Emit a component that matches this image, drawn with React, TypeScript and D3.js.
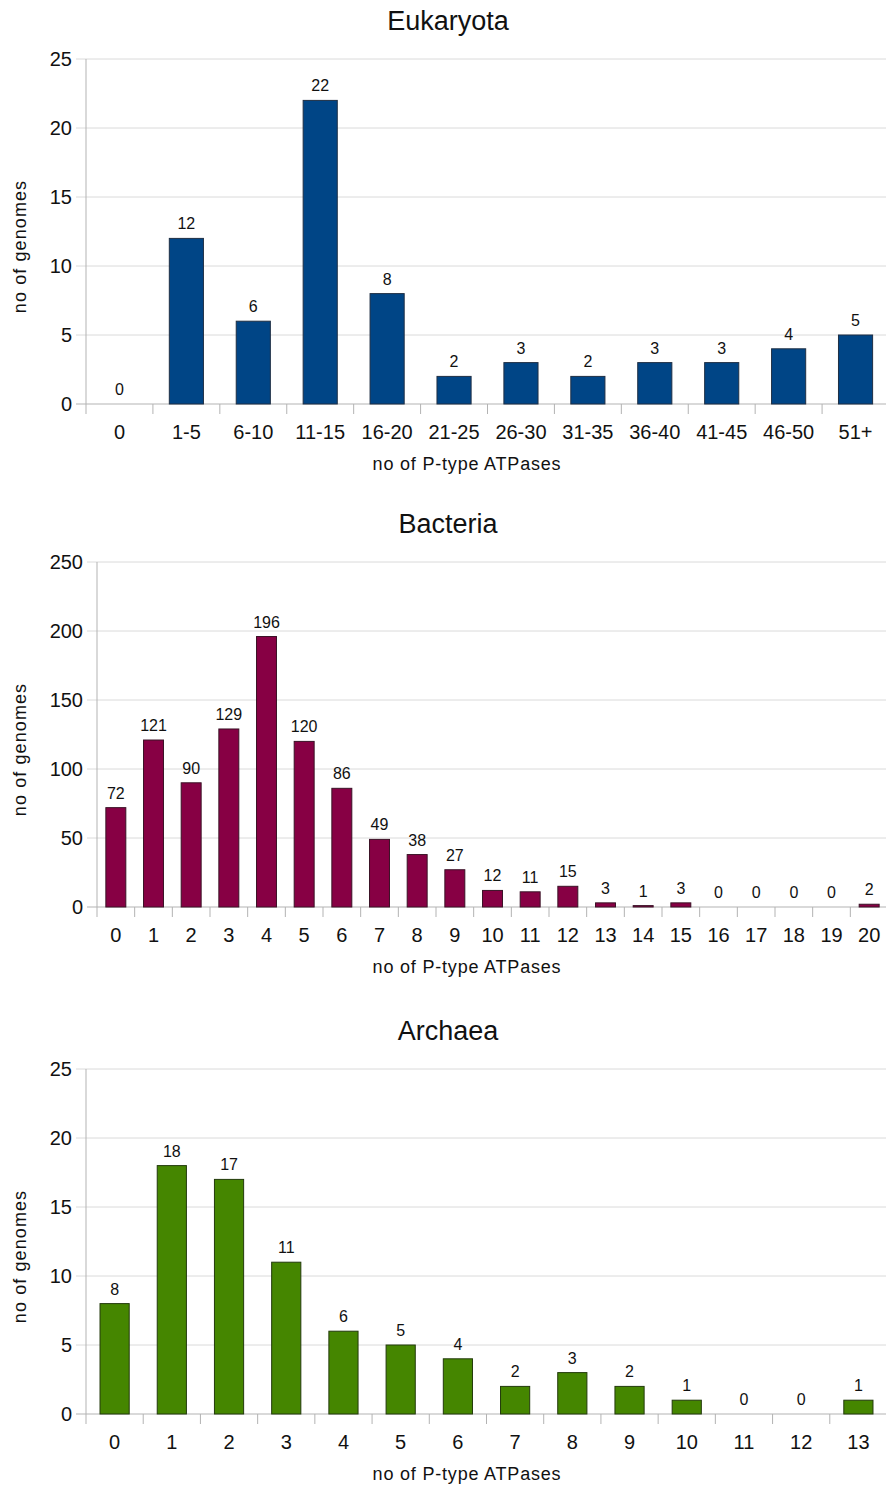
import React from "react";
import * as d3 from "d3";

const eukCategories = ["0", "1-5", "6-10", "11-15", "16-20", "21-25", "26-30", "31-35", "36-40", "41-45", "46-50", "51+"];
const eukValues = [0, 12, 6, 22, 8, 2, 3, 2, 3, 3, 4, 5];
const eukTicks = [0, 5, 10, 15, 20, 25];

const bacCategories = ["0", "1", "2", "3", "4", "5", "6", "7", "8", "9", "10", "11", "12", "13", "14", "15", "16", "17", "18", "19", "20"];
const bacValues = [72, 121, 90, 129, 196, 120, 86, 49, 38, 27, 12, 11, 15, 3, 1, 3, 0, 0, 0, 0, 2];
const bacTicks = [0, 50, 100, 150, 200, 250];

const arcCategories = ["0", "1", "2", "3", "4", "5", "6", "7", "8", "9", "10", "11", "12", "13"];
const arcValues = [8, 18, 17, 11, 6, 5, 4, 2, 3, 2, 1, 0, 0, 1];
const arcTicks = [0, 5, 10, 15, 20, 25];

const FONT = "'Liberation Sans', Arial, sans-serif";

type PanelProps = {
  title: string;
  categories: string[];
  values: number[];
  ticks: number[];
  color: string;
  stroke: string;
  left: number;
  right: number;
  top: number;
  bottom: number;
  titleY: number;
  barFrac: number;
};

function Panel(p: PanelProps) {
  const x = d3
    .scaleBand<string>()
    .domain(p.categories)
    .range([p.left, p.right])
    .paddingInner(1 - p.barFrac)
    .paddingOuter((1 - p.barFrac) / 2);
  const step = x.step();
  const y = d3
    .scaleLinear()
    .domain([0, p.ticks[p.ticks.length - 1]])
    .range([p.bottom, p.top]);
  const gridRight = 886;
  return (
    <g>
      <text x={448} y={p.titleY} textAnchor="middle" fontSize={27} fontFamily={FONT} fill="#111">
        {p.title}
      </text>
      {p.ticks.map((t) => (
        <g key={"t" + t}>
          <line x1={p.left - 10} x2={gridRight} y1={y(t)} y2={y(t)} stroke={t === 0 ? "#b3b3b3" : "#dadada"} strokeWidth={1} />
          <text x={p.left - 14} y={y(t)} dy="0.35em" textAnchor="end" fontSize={20} fontFamily={FONT} fill="#111">
            {t}
          </text>
        </g>
      ))}
      <line x1={p.left} x2={p.left} y1={p.top} y2={p.bottom + 10} stroke="#b3b3b3" strokeWidth={1} />
      {p.categories.map((c, i) => (
        <line key={"s" + c} x1={p.left + step * (i + 1)} x2={p.left + step * (i + 1)} y1={p.bottom} y2={p.bottom + 10} stroke="#b3b3b3" strokeWidth={1} />
      ))}
      {p.categories.map((c, i) => {
        const v = p.values[i];
        const bx = x(c)!;
        const bw = x.bandwidth();
        return (
          <g key={"b" + c}>
            {v > 0 && (
              <rect x={bx} y={y(v)} width={bw} height={p.bottom - y(v)} fill={p.color} stroke={p.stroke} strokeWidth={1} />
            )}
            <text x={bx + bw / 2} y={y(v) - 9} textAnchor="middle" fontSize={16} fontFamily={FONT} fill="#111">
              {v}
            </text>
            <text x={bx + bw / 2} y={p.bottom + 28} dy="0.35em" textAnchor="middle" fontSize={20} fontFamily={FONT} fill="#111">
              {c}
            </text>
          </g>
        );
      })}
      <text x={467} y={p.bottom + 66} textAnchor="middle" fontSize={18} letterSpacing={0.8} fontFamily={FONT} fill="#111">
        no of P-type ATPases
      </text>
      <text
        transform={`translate(20,${(p.top + p.bottom) / 2 + 15}) rotate(-90)`}
        textAnchor="middle"
        dy="0.35em"
        fontSize={18}
        letterSpacing={1.1}
        fontFamily={FONT}
        fill="#111"
      >
        no of genomes
      </text>
    </g>
  );
}

export default function App() {
  return (
    <svg
      width={886}
      height={1486}
      viewBox="0 0 886 1486"
      style={{ position: "absolute", left: 0, top: 0, background: "#fff" }}
    >
      <rect x={0} y={0} width={886} height={1486} fill="#fff" />
      <Panel
        title="Eukaryota"
        categories={eukCategories}
        values={eukValues}
        ticks={eukTicks}
        color="#004586"
        stroke="#1f2f44"
        left={86}
        right={889}
        top={59}
        bottom={404}
        titleY={30}
        barFrac={0.51}
      />
      <Panel
        title="Bacteria"
        categories={bacCategories}
        values={bacValues}
        ticks={bacTicks}
        color="#870044"
        stroke="#3a1226"
        left={97}
        right={888}
        top={562}
        bottom={907}
        titleY={533}
        barFrac={0.53}
      />
      <Panel
        title="Archaea"
        categories={arcCategories}
        values={arcValues}
        ticks={arcTicks}
        color="#458600"
        stroke="#233a0c"
        left={86}
        right={887}
        top={1069}
        bottom={1414}
        titleY={1040}
        barFrac={0.51}
      />
    </svg>
  );
}
